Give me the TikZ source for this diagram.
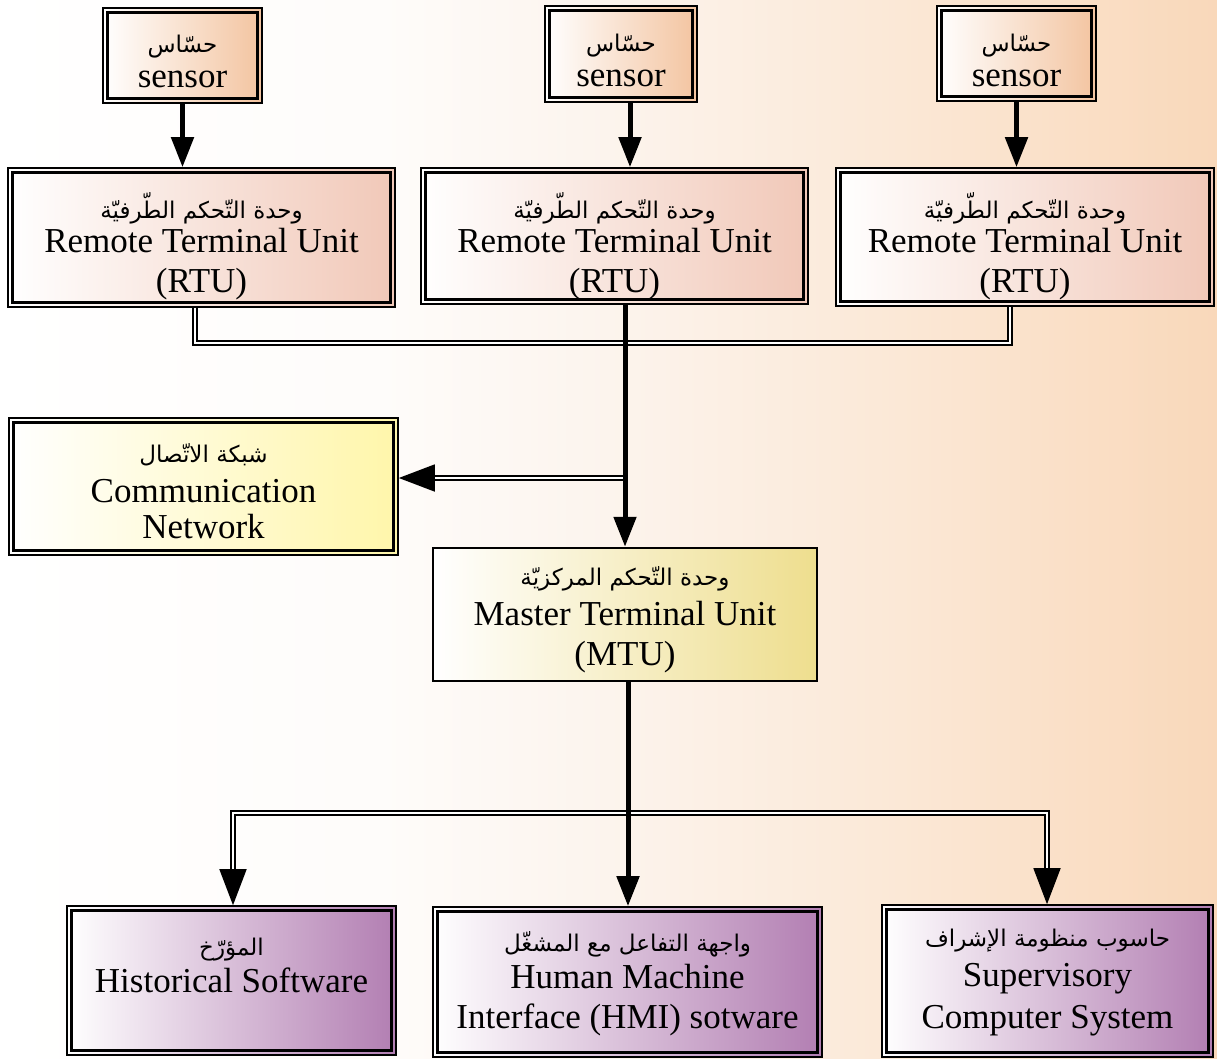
\documentclass[tikz,border=0pt]{standalone}
\usepackage{fontspec}
\setmainfont{Liberation Serif}
\newfontfamily\arabicfont[Script=Arabic]{DejaVu Sans}
\TeXXeTstate=1
\usetikzlibrary{arrows.meta}

\definecolor{bgmid}{RGB}{252,244,237}
\definecolor{bgpeach}{RGB}{251,232,214}
\definecolor{bgend}{RGB}{249,216,186}
\definecolor{sensorc}{RGB}{243,196,160}
\definecolor{rtuc}{RGB}{241,200,184}
\definecolor{commc}{RGB}{255,246,170}
\definecolor{mtuc}{RGB}{238,222,142}
\definecolor{outc}{RGB}{178,126,178}

\pgfdeclarehorizontalshading{bgfade}{100bp}{color(0bp)=(white); color(25bp)=(white);
  color(41bp)=(white!70!bgmid); color(50bp)=(bgmid); color(62bp)=(bgpeach);
  color(75bp)=(bgend); color(100bp)=(bgend)}

\newcommand\artext[1]{{\arabicfont\fontsize{23}{23}\selectfont\beginR #1\endR}}

\tikzset{
  box/.style={draw, line width=1.6pt, inner sep=0pt, align=center,
    font=\fontsize{35}{40}\selectfont,
    path picture={\draw[line width=2.8pt]
      ([shift={(4.2pt,-4.2pt)}]path picture bounding box.north west) rectangle
      ([shift={(-4.2pt,4.2pt)}]path picture bounding box.south east);}},
  flatbox/.style={draw, line width=2.5pt, inner sep=0pt, align=center,
    font=\fontsize{35}{40}\selectfont},
  feed/.style={line width=5pt, -{Triangle[length=30pt,width=22pt]}},
  bus/.style={double, double distance=2.6pt, line width=1.6pt},
  tipend/.style={-{Triangle[length=36pt,width=27pt]}},
}

\begin{document}
\begin{tikzpicture}[x=1pt,y=-1pt]
\useasboundingbox (0,0) rectangle (1217,1059);
\shade[shading=bgfade] (0,0) rectangle (1217,1059);

% sensors
\node[box, left color=white, right color=sensorc, minimum width=159pt,
  text height=80pt, text depth=15pt]
  (sensA) at (182.5,55.5) {\artext{حسّاس}\\[-5pt]sensor};
\node[box, left color=white, right color=sensorc, minimum width=152pt,
  text height=81pt, text depth=15pt]
  (sensB) at (621,54) {\artext{حسّاس}\\[-5pt]sensor};
\node[box, left color=white, right color=sensorc, minimum width=159pt,
  text height=81pt, text depth=14pt]
  (sensC) at (1016.5,53.5) {\artext{حسّاس}\\[-5pt]sensor};

% remote units
\node[box, left color=white, right color=rtuc, minimum width=387pt,
  text height=124pt, text depth=15pt]
  (rtuA) at (201.5,237.5) {\artext{وحدة التّحكم الطّرفيّة}\\[-6pt]Remote Terminal Unit\\(RTU)};
\node[box, left color=white, right color=rtuc, minimum width=387pt,
  text height=124pt, text depth=12pt]
  (rtuB) at (614.5,236) {\artext{وحدة التّحكم الطّرفيّة}\\[-6pt]Remote Terminal Unit\\(RTU)};
\node[box, left color=white, right color=rtuc, minimum width=378pt,
  text height=124pt, text depth=14pt]
  (rtuC) at (1025,237) {\artext{وحدة التّحكم الطّرفيّة}\\[-6pt]Remote Terminal Unit\\(RTU)};

% network and master
\node[box, left color=white, right color=commc, minimum width=389pt,
  text height=120pt, text depth=17pt]
  (comm) at (203.5,486.5) {\artext{شبكة الاتّصال}\\[0pt]Communication\\[-4pt]Network};
\node[flatbox, left color=white, right color=mtuc, minimum width=384pt,
  text height=117pt, text depth=16pt]
  (mtu) at (625,614.5) {\artext{وحدة التّحكم المركزيّة}\\[0pt]Master Terminal Unit\\(MTU)};

% outputs
\node[box, left color=white, right color=outc, minimum width=329pt,
  text height=86pt, text depth=63pt]
  (hist) at (231.5,980.5) {\artext{المؤرّخ}\\[-3pt]Historical Software};
\node[box, left color=white, right color=outc, minimum width=389pt,
  text height=121pt, text depth=29pt]
  (hmi) at (627.5,982) {\artext{واجهة التفاعل مع المشغّل}\\[-3pt]Human Machine\\Interface (HMI) sotware};
\node[box, left color=white, right color=outc, minimum width=331pt,
  text height=123pt, text depth=29pt]
  (sup) at (1047.5,981) {\artext{حاسوب منظومة الإشراف}\\[0pt]Supervisory\\[2pt]Computer System};

\coordinate (jA) at (195,343);
\coordinate (jC) at (1010,343);
\coordinate (tap) at (625,478);
\coordinate (jL) at (233,813);
\coordinate (jR) at (1047,813);

% sensor feeds
\draw[feed] (sensA.south) -- (sensA.south |- rtuA.north);
\draw[feed] ([xshift=9pt]sensB.south) -- ([xshift=9pt]sensB.south |- rtuB.north);
\draw[feed] (sensC.south) -- (sensC.south |- rtuC.north);

% double buses
\draw[bus] (rtuA.south -| jA) -- (jA) -- (jC) -- (rtuC.south -| jC);
\draw[bus, tipend] (tap) -- (tap -| comm.east);
\draw[bus, {Triangle[length=36pt,width=27pt]}-{Triangle[length=36pt,width=27pt]}]
  (jL |- hist.north) -- (jL) -- (jR) -- (jR |- sup.north);

% trunk
\draw[feed] (rtuB.south -| mtu.north) -- (mtu.north);
\draw[feed] ([xshift=3pt]mtu.south) -- ([xshift=3pt]mtu.south |- hmi.north);

\end{tikzpicture}
\end{document}
